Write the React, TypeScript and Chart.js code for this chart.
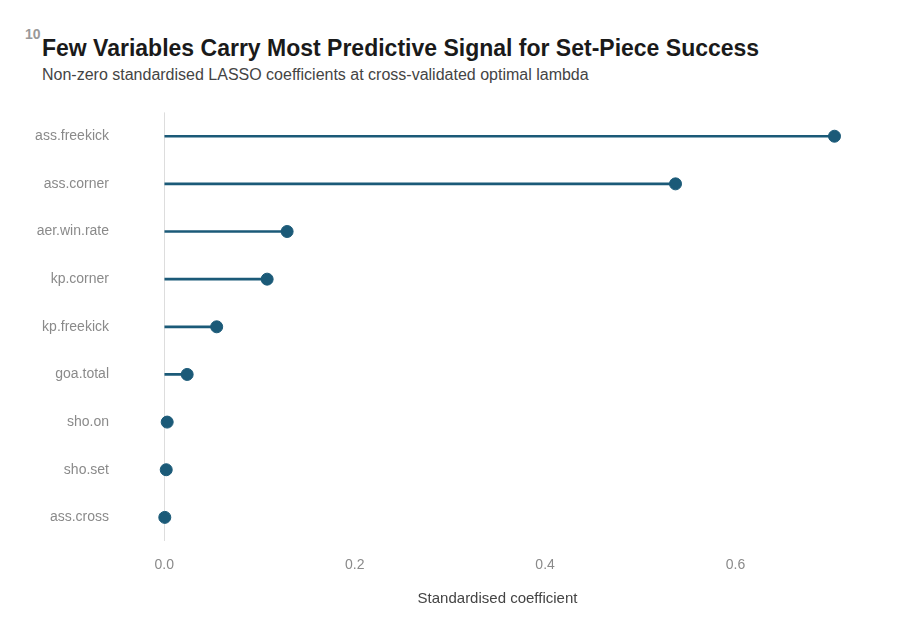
import { useEffect, useRef } from 'react'
import { Chart, registerables } from 'chart.js'

Chart.register(...registerables)

const variables = ['ass.freekick', 'ass.corner', 'aer.win.rate', 'kp.corner', 'kp.freekick', 'goa.total', 'sho.on', 'sho.set', 'ass.cross']
const coefficients = [0.704, 0.537, 0.129, 0.108, 0.055, 0.024, 0.003, 0.002, 0.0005]
const xTicks = [0, 0.2, 0.4, 0.6]

const teal = '#1b5a78'
const font = 'Liberation Sans, Arial, sans-serif'

export default function App() {
  const canvasRef = useRef<HTMLCanvasElement | null>(null)

  useEffect(() => {
    if (!canvasRef.current) return
    const chart = new Chart(canvasRef.current, {
      type: 'bar',
      data: {
        labels: variables,
        datasets: [
          {
            type: 'line',
            data: coefficients,
            showLine: false,
            pointRadius: 6,
            pointBackgroundColor: teal,
            pointBorderColor: teal,
          } as any,
          {
            type: 'bar',
            data: coefficients.map((v) => [0, v]),
            backgroundColor: teal,
            barThickness: 2,
          },
        ],
      },
      options: {
        indexAxis: 'y',
        animation: false,
        responsive: false,
        layout: { padding: 0 },
        plugins: { legend: { display: false }, tooltip: { enabled: false } },
        scales: {
          x: {
            min: -0.035,
            max: 0.735,
            afterBuildTicks: (axis) => {
              axis.ticks = xTicks.map((value) => ({ value }))
            },
            border: { display: false },
            grid: {
              color: (ctx) => (ctx.tick && ctx.tick.value === 0 ? '#dddddd' : 'rgba(0,0,0,0)'),
              drawTicks: false,
            },
            ticks: {
              color: '#8a8a8a',
              font: { family: font, size: 14 },
              padding: 16,
              callback: (v) => Number(v).toFixed(1),
            },
            title: {
              display: true,
              text: 'Standardised coefficient',
              color: '#444444',
              font: { family: font, size: 15 },
              padding: { top: 0 },
            },
          },
          y: {
            border: { display: false },
            grid: { display: false },
            afterFit: (axis) => {
              axis.width = 123
            },
            ticks: { color: '#8a8a8a', font: { family: font, size: 14 }, padding: 14 },
          },
        },
      },
    })
    return () => chart.destroy()
  }, [])

  return (
    <div style={{ position: 'relative', width: 888, height: 606, fontFamily: font }}>
      <div style={{ position: 'absolute', left: 17, top: 18, fontSize: 14, fontWeight: 'bold', color: '#999' }}>10</div>
      <div style={{ position: 'absolute', left: 34, top: 27, fontSize: 23, fontWeight: 'bold', color: '#1a1a1a' }}>
        Few Variables Carry Most Predictive Signal for Set-Piece Success
      </div>
      <div style={{ position: 'absolute', left: 34, top: 58, fontSize: 16, color: '#444' }}>
        Non-zero standardised LASSO coefficients at cross-validated optimal lambda
      </div>
      <canvas ref={canvasRef} width={863} height={522} style={{ position: 'absolute', left: 0, top: 82 }} />
    </div>
  )
}
